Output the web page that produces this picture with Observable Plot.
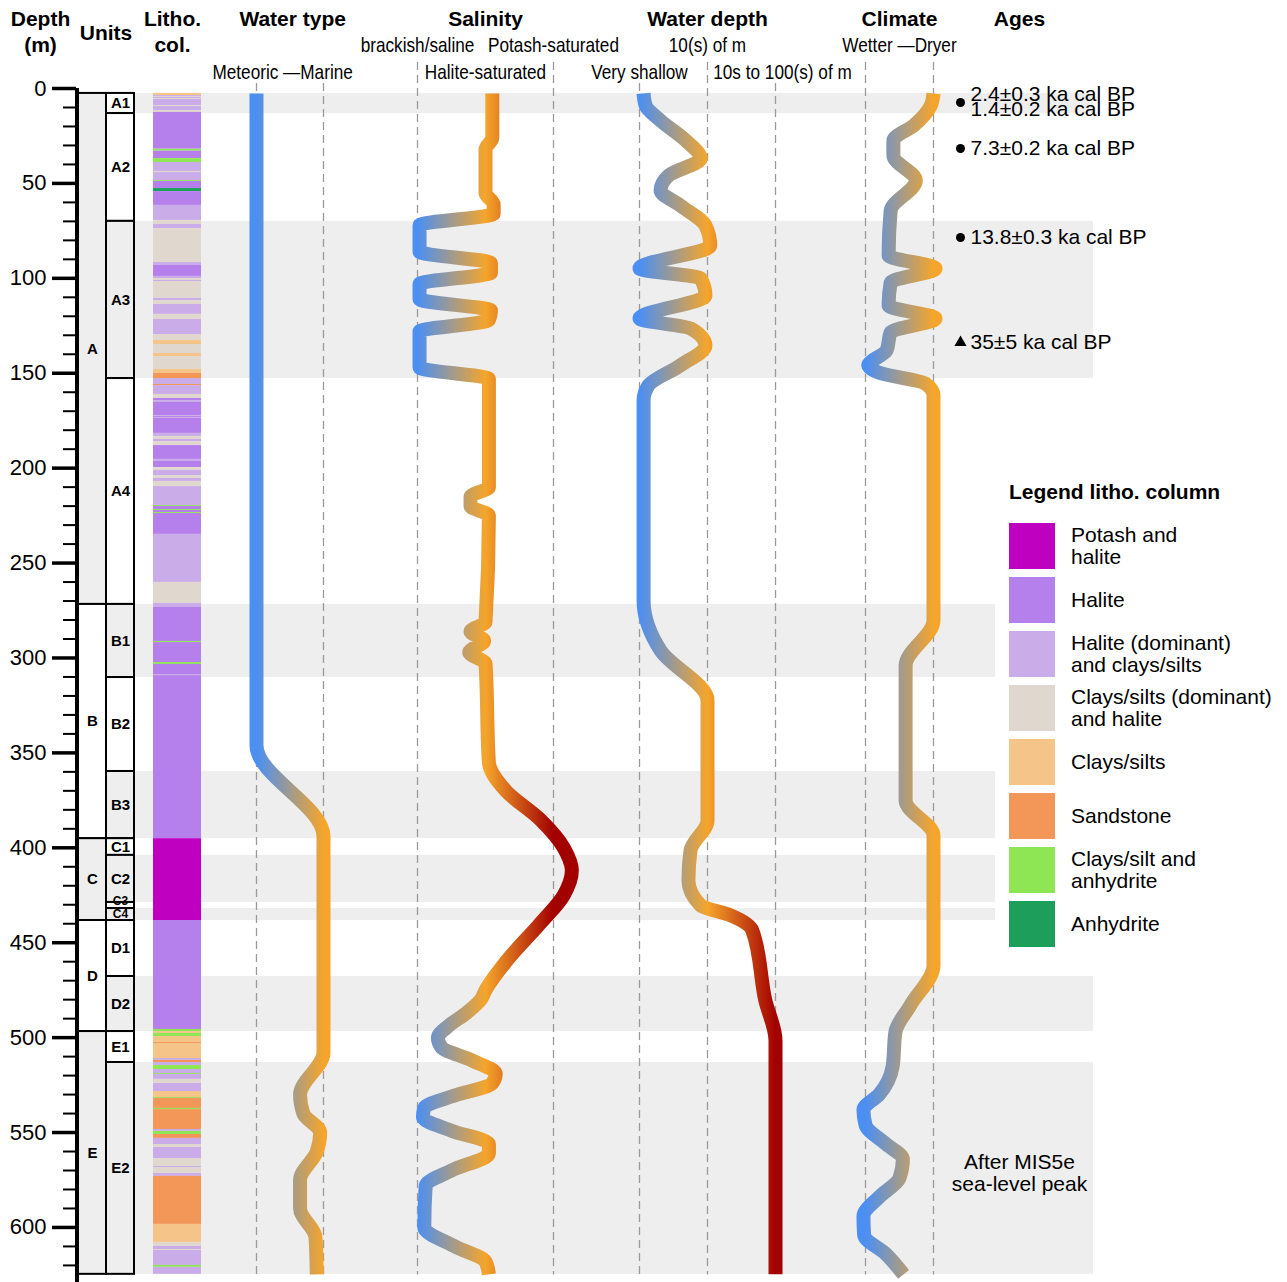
<!DOCTYPE html>
<html><head><meta charset="utf-8">
<script src="https://cdn.jsdelivr.net/npm/d3@7"></script>
<script src="https://cdn.jsdelivr.net/npm/@observablehq/plot@0.6"></script>
<style>
body{margin:0;background:#fff;font-family:Arial,"Liberation Sans",sans-serif}
#chart{position:relative;width:1287px;height:1282px;overflow:hidden;background:#fff}
</style></head><body><div id="chart"></div>
<script>
// ---------------- DATA ----------------
const coreTop = 2.6, coreBottom = 624.7;
const unitNames = ["A","B","C","D","E"];
const unitTops = [2.6, 271.8, 395.2, 438.3, 496.8];
const unitBottoms = [271.8, 395.2, 438.3, 496.8, 624.7];
const unitShaded = [true, false, true, false, true];

const subNames = ["A1","A2","A3","A4","B1","B2","B3","C1","C2","C3","C4","D1","D2","E1","E2"];
const subTops = [2.6, 13.2, 70.0, 152.8, 271.8, 310.3, 359.8, 395.2, 404.0, 428.8, 432.0, 438.3, 467.8, 496.8, 513.1];
const subBottoms = [13.2, 70.0, 152.8, 271.8, 310.3, 359.8, 395.2, 404.0, 428.8, 432.0, 438.3, 467.8, 496.8, 513.1, 624.7];
const subShaded = [false,false,true,false,true,false,true,false,true,false,true,false,true,false,true];
const subLabelDepth = [7.9, 41.6, 111.4, 212.3, 291.0, 335.0, 377.5, 399.6, 416.4, 428.0, 435.0, 453.0, 482.3, 505.0, 569.0];
const bandUnits = ["A1","A3","B1","B3","C2","C4","D2","E2"];

const lithoLabels = ["Potash and\nhalite","Halite","Halite (dominant)\nand clays/silts","Clays/silts (dominant)\nand halite","Clays/silts","Sandstone","Clays/silt and\nanhydrite","Anhydrite"];
const lithoCodes = ["PH","H","HC","CH","C","S","CA","A"];
const lithoColors = ["#c000c0","#b57fec","#c9ace8","#e0d8cf","#f4c488","#f39759","#8ee655","#1d9f5b"];

// layer tops (m) and codes; each layer ends at the next top, last ends at coreBottom
const layerTops = [2.6,3.7,4.2,4.7,5.3,5.8,9.0,9.5,11.6,12.6,32.0,33.0,36.9,39.0,43.7,44.3,48.5,49.0,52.7,54.3,61.6,69.5,71.6,73.8,91.7,93.2,99.0,100.1,101.1,101.7,110.6,111.7,113.8,119.0,121.7,129.6,132.8,134.9,139.6,141.2,148.0,150.1,152.8,155.9,156.5,161.2,163.3,164.4,165.4,172.3,172.8,173.3,173.8,181.7,183.3,184.9,186.0,188.1,195.4,196.5,199.7,201.2,203.9,205.4,207.0,209.7,219.7,220.2,221.8,222.3,223.4,223.9,234.9,260.2,271.3,273.4,291.3,291.9,302.4,303.4,308.7,309.3,395.2,438.3,495.7,496.8,497.8,499.4,502.6,503.1,511.0,512.0,513.1,514.7,516.8,518.9,519.4,522.0,524.2,528.4,531.5,532.0,537.3,537.9,548.4,549.4,551.0,553.1,556.3,557.9,563.7,567.9,568.4,571.6,573.1,598.4,607.9,610.0,611.6,612.1,620.0,621.0];
const layerCodes = ["C","HC","CH","HC","CH","HC","CH","HC","CH","H","CA","H","CA","HC","CH","HC","CA","H","A","H","HC","CH","HC","CH","HC","H","HC","CH","HC","CH","HC","CH","HC","CH","HC","CH","C","CH","C","CH","C","S","HC","S","HC","CH","H","HC","H","HC","H","HC","H","HC","CH","HC","CH","H","HC","H","CH","HC","CH","HC","CH","HC","CA","H","CA","H","CA","H","HC","CH","HC","H","CA","H","CA","H","HC","H","PH","H","CA","C","CA","C","S","C","HC","S","HC","CA","HC","CA","HC","CH","HC","C","CA","S","CA","S","HC","CA","S","HC","CH","HC","CH","HC","CH","HC","S","C","CH","HC","CH","HC","CA","HC"];

// curves: depth (m) and position on each track's ordinal scale
const waterTypeLevels = ["Meteoric","Marine"];
const waterTypeDepth = [2.6,346,394,508,530,540,550,560,575,590,605,624.7];
const waterTypeValue = [0,0,1,1,0.65,0.7,0.95,0.9,0.65,0.65,0.88,0.9];

const salinityLevels = ["brackish/saline","Halite-saturated","Potash-saturated"];
const salinityDepth = [2.6,26,32,55,61,66,72,86,92,97,103,111,117,122,128,147,153,210,215,220,225,281,286,291,297,303,355,370,385,400,412,425,440,460,475,480,487,494,500,505,512,519,524,531,537,542,549,556,561,570,578,600,610,618,624.7];
const salinityValue = [1.1,1.1,1.0,1.0,1.12,1.12,0.03,0.03,1.08,1.08,0.03,0.03,1.08,1.05,0.03,0.03,1.05,1.05,0.78,0.78,1.05,1.0,0.78,0.98,0.76,1.0,1.05,1.3,1.8,2.15,2.27,2.15,1.8,1.3,1.0,0.93,0.72,0.45,0.3,0.35,0.8,1.15,1.1,0.5,0.1,0.08,0.5,1.05,1.05,0.5,0.12,0.1,0.55,1.0,1.05];

const depthLevels = ["Very shallow","10(s) of m","10s to 100(s) of m"];
const waterDepthDepth = [2.6,9,16.9,27.4,36.9,45.8,53.7,61.6,72.2,82.7,94.8,100.1,109,121.2,126.4,135.4,145.9,156.5,164.4,269.7,296.1,322.4,385.6,401.4,417.2,430.4,435.6,443.6,480.4,501.5,624.7];
const waterDepthValue = [0.06,0.09,0.31,0.68,0.9,0.43,0.31,0.6,0.97,1.04,0,0.9,0.97,0,0.75,0.97,0.6,0.13,0.06,0.06,0.31,1,1,0.75,0.72,0.9,1.34,1.66,1.85,2,2];

const climateLevels = ["Wetter","Dryer"];
const climateDepth = [2.6,9,19.5,27.4,35.3,48.5,64.3,88,94.8,102.2,114.3,121.2,128.5,138,145.9,149.6,155.4,161.7,280.3,304,375.1,393.5,462,483,497,515,530,538,546,556,564,574,584,594,604,614,624.7];
const climateValue = [1,0.96,0.71,0.41,0.41,0.74,0.37,0.34,1.03,0.37,0.34,1.03,0.37,0.31,0.04,0.19,0.88,1,1,0.59,0.59,1,1,0.66,0.44,0.4,0.2,-0.03,0.0,0.3,0.55,0.5,0.2,-0.03,-0.02,0.3,0.56];

const ageLabels = ["2.4±0.3 ka cal BP","1.4±0.2 ka cal BP","7.3±0.2 ka cal BP","13.8±0.3 ka cal BP","35±5 ka cal BP"];
const ageLabelDepth = [3.0, 11.2, 31.6, 78.5, 133.8];
const ageMarkDepth = [7.4, 31.6, 78.5, 133.8];
const ageMarkSymbol = ["circle","circle","circle","triangle"];
const noteText = "After MIS5e\nsea-level peak";
const noteDepth = 571.5;

// ---------------- LAYOUT / STYLE ----------------
const H = 1282, MT = 88, Y_DOMAIN = [0, 629];
const blue = "#4b8ff3", orange = "#f5a52b", red = "#a30000";
const font = "Arial, 'Liberation Sans', sans-serif";
const chart = document.getElementById("chart");

function place(el, left) { el.style.position = "absolute"; el.style.left = left + "px"; el.style.top = "0px"; chart.appendChild(el); return el; }
function base(width, extra) {
  return Object.assign({width, height: H, marginTop: MT, marginBottom: 0, marginLeft: 0, marginRight: 0,
    y: {domain: Y_DOMAIN, range: [MT, H], axis: null},
    style: {fontFamily: font, background: "transparent", overflow: "visible", color: "black"}}, extra);
}
const idx = a => a.map((_, i) => i);
// condense narrow sub-header labels horizontally
function squeeze(svg, texts, k) {
  svg.querySelectorAll("text").forEach(t => {
    if (texts.includes(t.textContent)) {
      const tr = t.getAttribute("transform") || "";
      t.setAttribute("transform", tr + ` scale(${k},1)`);
    }
  });
}

// background bands
const bandIdx = idx(subNames).filter(i => bandUnits.includes(subNames[i]));
place(Plot.plot(base(960, {
  x: {type: "band", domain: ["b"], padding: 0, axis: null},
  marks: [Plot.barY(bandIdx, {x: () => "b", y1: i => subTops[i], y2: i => subBottoms[i], fill: "#eeeeee"})]
})), 133);

// depth axis
place(Plot.plot(base(80, {
  marginLeft: 76,
  x: {domain: [0, 1], range: [76.5, 80], axis: null},
  marks: [
    Plot.axisY({anchor: "left", ticks: d3.range(10, 630, 10).filter(d => d % 50), tickSize: 13, strokeWidth: 2, text: null}),
    Plot.axisY({anchor: "left", ticks: d3.range(0, 601, 50), tickSize: 24, strokeWidth: 3.5, tickPadding: 6, fontSize: 22, tickFormat: d => String(d)}),
    Plot.ruleX([0], {y1: 0, y2: 629, strokeWidth: 4}),
    Plot.text(["Depth\n(m)"], {frameAnchor: "top", dx: -38, dy: -80, fontSize: 21, fontWeight: "bold", lineHeight: 1.2})
  ]
})), 0);

// units
const subIdx = idx(subNames);
const unitIdx = idx(unitNames);
place(Plot.plot(base(57, {
  x: {type: "band", domain: ["u", "s"], padding: 0, axis: null},
  marks: [
    Plot.barY(unitIdx, {x: () => "u", y1: i => unitTops[i], y2: i => unitBottoms[i], fill: i => unitShaded[i] ? "#eeeeee" : "#ffffff", stroke: "black", strokeWidth: 2}),
    Plot.barY(subIdx, {x: () => "s", y1: i => subTops[i], y2: i => subBottoms[i], fill: i => subShaded[i] ? "#eeeeee" : "#ffffff", stroke: "black", strokeWidth: 2}),
    Plot.text(unitIdx, {x: () => "u", y: i => (unitTops[i] + unitBottoms[i]) / 2, text: i => unitNames[i], fontWeight: "bold", fontSize: 15}),
    Plot.text(subIdx, {x: () => "s", y: i => subLabelDepth[i], text: i => subNames[i], fontWeight: "bold", fontSize: i => (subBottoms[i] - subTops[i]) < 8 ? 12 : 15}),
    Plot.text(["Units"], {frameAnchor: "top", dy: -63, fontSize: 21, fontWeight: "bold"})
  ]
})), 77);

// litho column
const layerIdx = idx(layerTops);
place(Plot.plot(base(48, {
  x: {type: "band", domain: ["c"], padding: 0, axis: null},
  color: {domain: lithoCodes, range: lithoColors},
  marks: [
    Plot.barY(layerIdx, {x: () => "c", y1: i => layerTops[i], y2: i => i + 1 < layerTops.length ? layerTops[i + 1] : coreBottom, fill: i => layerCodes[i]}),
    Plot.text(["Litho.\ncol."], {frameAnchor: "top", dx: -5, dy: -80, fontSize: 21, fontWeight: "bold", lineHeight: 1.2})
  ]
})), 153);

// tracks
function track({id, left, width, range, levels, depths, values, colors, guides, title, titleAt, subs}) {
  const n = levels.length;
  const marks = [
    ...guides.map(([v, top]) => Plot.ruleX([v], {y1: top, y2: 625, stroke: "#9a9a9a", strokeWidth: 1.3, strokeDasharray: "8,5"})),
    Plot.line(values, {x: values, y: depths, curve: "monotone-y", stroke: `url(#${id})`, strokeWidth: 14, strokeLinecap: "butt", strokeLinejoin: "round"}),
    Plot.text([title], {x: [titleAt], frameAnchor: "top", dy: -77, fontSize: 21, fontWeight: "bold"}),
    ...subs.map(s => Plot.text([s.text], {x: [s.at], frameAnchor: "top", dy: s.row === 1 ? -51 : -24, dx: s.dx || 0, fontSize: 20}))
  ];
  const svg = Plot.plot(base(width, {x: {domain: [0, n - 1], range, axis: null}, marks}));
  squeeze(svg, subs.map(s => s.text), 0.86);
  const xs = svg.scale("x");
  const ns = "http://www.w3.org/2000/svg";
  const defs = document.createElementNS(ns, "defs");
  const g = document.createElementNS(ns, "linearGradient");
  g.setAttribute("id", id);
  g.setAttribute("gradientUnits", "userSpaceOnUse");
  g.setAttribute("x1", xs.apply(0)); g.setAttribute("x2", xs.apply(n - 1));
  g.setAttribute("y1", 0); g.setAttribute("y2", 0);
  colors.forEach((c, i) => {
    const s = document.createElementNS(ns, "stop");
    s.setAttribute("offset", i / (colors.length - 1)); s.setAttribute("stop-color", c);
    g.appendChild(s);
  });
  defs.appendChild(g); svg.insertBefore(defs, svg.firstChild);
  return place(svg, left);
}

track({id: "gWater", left: 200, width: 180, range: [56, 123], levels: waterTypeLevels,
  depths: waterTypeDepth, values: waterTypeValue, colors: [blue, orange],
  guides: [[0, -2.6], [1, -2.6]], title: "Water type", titleAt: 0.54,
  subs: [{text: waterTypeLevels[0] + " —" + waterTypeLevels[1], at: 0.39, row: 2}]});

track({id: "gSal", left: 380, width: 220, range: [37, 173], levels: salinityLevels,
  depths: salinityDepth, values: salinityValue, colors: [blue, orange, red],
  guides: [[0, -13.7], [2, -13.7]], title: "Salinity", titleAt: 1,
  subs: [{text: salinityLevels[0], at: 0, row: 1}, {text: salinityLevels[2], at: 2, row: 1}, {text: salinityLevels[1], at: 1, row: 2}]});

track({id: "gDepth", left: 600, width: 220, range: [39, 175], levels: depthLevels,
  depths: waterDepthDepth, values: waterDepthValue, colors: [blue, orange, red],
  guides: [[0, -2.6], [1, -13.7], [2, -2.6]], title: "Water depth", titleAt: 1,
  subs: [{text: depthLevels[1], at: 1, row: 1}, {text: depthLevels[0], at: 0, row: 2}, {text: depthLevels[2], at: 2, row: 2, dx: 7}]});

track({id: "gClim", left: 820, width: 125, range: [45, 113], levels: climateLevels,
  depths: climateDepth, values: climateValue, colors: [blue, orange],
  guides: [[0, -13.7], [1, -13.7]], title: "Climate", titleAt: 0.5,
  subs: [{text: climateLevels[0] + " —" + climateLevels[1], at: 0.5, row: 1}]});

// ages
place(Plot.plot(base(148, {
  marks: [
    Plot.dot(ageMarkDepth, {y: d => d, frameAnchor: "left", dx: 15, r: 4.5, fill: "black", stroke: "none", symbol: (d, i) => ageMarkSymbol[i]}),
    Plot.text(ageLabels, {y: (d, i) => ageLabelDepth[i], frameAnchor: "left", dx: 25, textAnchor: "start", fontSize: 21}),
    Plot.text([noteText], {y: [noteDepth], frameAnchor: "middle", fontSize: 21, lineHeight: 1.05}),
    Plot.text(["Ages"], {frameAnchor: "top", dy: -77, fontSize: 21, fontWeight: "bold"})
  ]
})), 945);

// legend
const legend = document.createElement("div");
legend.style.cssText = "position:absolute;left:995px;top:472px;width:292px;height:478px;background:#fff;font-family:Arial,'Liberation Sans',sans-serif;color:#000";
const lt = document.createElement("div");
lt.textContent = "Legend litho. column";
lt.style.cssText = "position:absolute;left:14px;top:8px;font-weight:bold;font-size:21px;white-space:nowrap";
legend.appendChild(lt);
lithoLabels.forEach((lab, i) => {
  const sw = document.createElement("div");
  sw.style.cssText = `position:absolute;left:14px;top:${51 + i * 54}px;width:46px;height:46px;background:${lithoColors[i]}`;
  const tx = document.createElement("div");
  tx.style.cssText = `position:absolute;left:76px;top:${51 + i * 54}px;height:46px;display:flex;align-items:center;font-size:21px;line-height:22px;white-space:pre`;
  tx.textContent = lab;
  legend.appendChild(sw); legend.appendChild(tx);
});
chart.appendChild(legend);
</script></body></html>
